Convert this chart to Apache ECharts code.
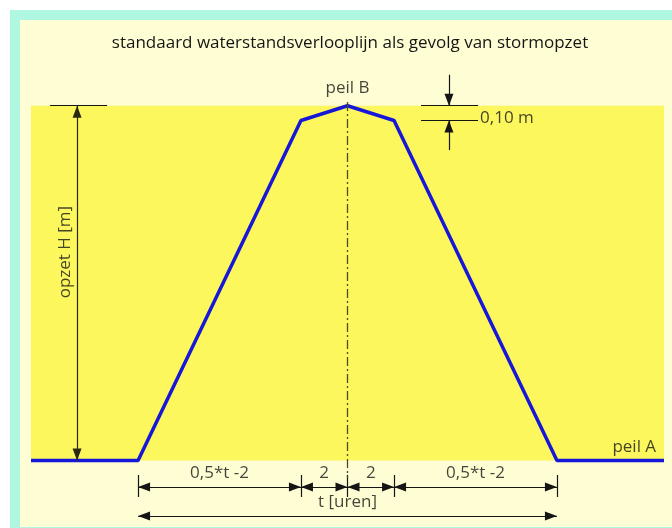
<!DOCTYPE html>
<html>
<head>
<meta charset="utf-8">
<script src="https://cdn.jsdelivr.net/npm/echarts@6/dist/echarts.min.js"></script>
<style>
html,body{margin:0;padding:0;background:#fff;}
#chart{width:672px;height:528px;}
</style>
</head>
<body>
<div id="chart"></div>
<script>
// ---- data (hours relative to the peak, water level in metres above peil A) ----
const hours = [-13.6, -9, -2, 0, 2, 9, 13.6];
const level = [0, 0, 2.3, 2.4, 2.3, 0, 0];
const titleText = 'standaard waterstandsverlooplijn als gevolg van stormopzet';
const segmentLabels = ['0,5*t -2', '2', '2', '0,5*t -2'];
const segmentBounds = [-9, -2, 0, 2, 9];
const peakLevel = 2.4;
const shoulderLevel = 2.3;

// ---- axis extents / annotation placement (data units) ----
const xMin = -13.6, xMax = 13.6;
const yMin = -0.45, yMax = 2.98;
const dimY = -0.179, tickTop = -0.098, tickBot = -0.247, totalY = -0.376;
const leftDimX = -11.62;

const INK = '#151515';
const FONT = '"Open Sans", "DejaVu Sans", sans-serif';

const arrow = {symbol: 'triangle', symbolSize: [9, 12], symbolOffset: [0, '50%']};
function seg(x1, y1, x2, y2, a1, a2, style) {
  const p1 = Object.assign({coord: [x1, y1]}, a1 ? arrow : {symbol: 'none'});
  const p2 = Object.assign({coord: [x2, y2]}, a2 ? arrow : {symbol: 'none'});
  if (style) p1.lineStyle = style;
  return [p1, p2];
}

const lines = [];
// left "opzet H" dimension
lines.push(seg(-12.78, peakLevel, -10.33, peakLevel, false, false));
lines.push(seg(leftDimX, peakLevel, leftDimX, 0, true, true, {color: '#2a2a12', width: 1.2}));
// 0,10 m dimension
lines.push(seg(3.16, peakLevel, 5.61, peakLevel, false, false));
lines.push(seg(3.16, shoulderLevel, 5.61, shoulderLevel, false, false));
lines.push(seg(4.36, 2.61, 4.36, peakLevel, false, true));
lines.push(seg(4.36, 2.10, 4.36, shoulderLevel, false, true));
// bottom segment dimensions
segmentBounds.forEach(b => lines.push(seg(b, tickTop, b, tickBot, false, false)));
for (let i = 0; i < segmentBounds.length - 1; i++) {
  lines.push(seg(segmentBounds[i], dimY, segmentBounds[i + 1], dimY, true, true));
}
lines.push(seg(segmentBounds[0], totalY, segmentBounds[segmentBounds.length - 1], totalY, true, true));
// centre dash-dot line
lines.push(seg(0, 2.425, 0, -0.118, false, false,
  {type: [9, 3, 2, 3], color: '#4a4a1a', width: 1.3}));

const textItems = [
  {value: [0, 2.52], name: 'peil B'},
  {value: [5.61, 2.317], name: '0,10 m', label: {position: 'right', distance: 2}},
  {value: [13.26, 0.091], name: 'peil A', label: {position: 'left', distance: 0}},
  {value: [0, -0.281], name: 't [uren]'}
];
for (let i = 0; i < segmentLabels.length; i++) {
  textItems.push({value: [(segmentBounds[i] + segmentBounds[i + 1]) / 2, -0.085], name: segmentLabels[i]});
}
textItems.push({value: [-12.14, 1.41], name: 'opzet H [m]', label: {rotate: 90}});

const chart = echarts.init(document.getElementById('chart'), null, {renderer: 'canvas'});
chart.setOption({
  animation: false,
  backgroundColor: '#ffffff',
  graphic: [
    {type: 'rect', z: -10, shape: {x: 10, y: 10, width: 662, height: 518}, style: {fill: '#b0f7e2'}, silent: true},
    {type: 'rect', z: -9, shape: {x: 20, y: 20, width: 652, height: 507}, style: {fill: '#fffdd3'}, silent: true}
  ],
  title: {
    text: titleText,
    left: 345, top: 30, textAlign: 'center',
    textStyle: {fontFamily: FONT, fontSize: 17, fontWeight: 'normal', color: INK}
  },
  grid: {left: 31, right: 8, top: 20, bottom: 1},
  xAxis: {
    type: 'value', min: xMin, max: xMax,
    axisLine: {show: false}, axisTick: {show: false}, axisLabel: {show: false}, splitLine: {show: false}
  },
  yAxis: {
    type: 'value', min: yMin, max: yMax,
    axisLine: {show: false}, axisTick: {show: false}, axisLabel: {show: false}, splitLine: {show: false}
  },
  series: [
    {
      type: 'line', z: 1, silent: true, data: [],
      markArea: {
        silent: true,
        itemStyle: {color: '#fdf75e', opacity: 1},
        data: [[{coord: [xMin, 0]}, {coord: [xMax, peakLevel]}]]
      }
    },
    {
      type: 'line', z: 3, silent: true,
      data: hours.map((h, i) => [h, level[i]]),
      symbol: 'none',
      lineStyle: {color: '#1717d8', width: 3.5},
      markLine: {
        silent: true, animation: false,
        symbol: 'none',
        label: {show: false},
        lineStyle: {color: INK, width: 1.2, type: 'solid'},
        emphasis: {disabled: true},
        data: lines
      }
    },
    {
      type: 'scatter', z: 4, silent: true, symbolSize: 0,
      data: textItems,
      itemStyle: {color: INK},
      label: {
        show: true, position: 'inside', formatter: '{b}',
        fontFamily: FONT, fontSize: 17, color: INK,
        textBorderWidth: 0, textBorderColor: 'transparent'
      }
    }
  ]
});
</script>
</body>
</html>
